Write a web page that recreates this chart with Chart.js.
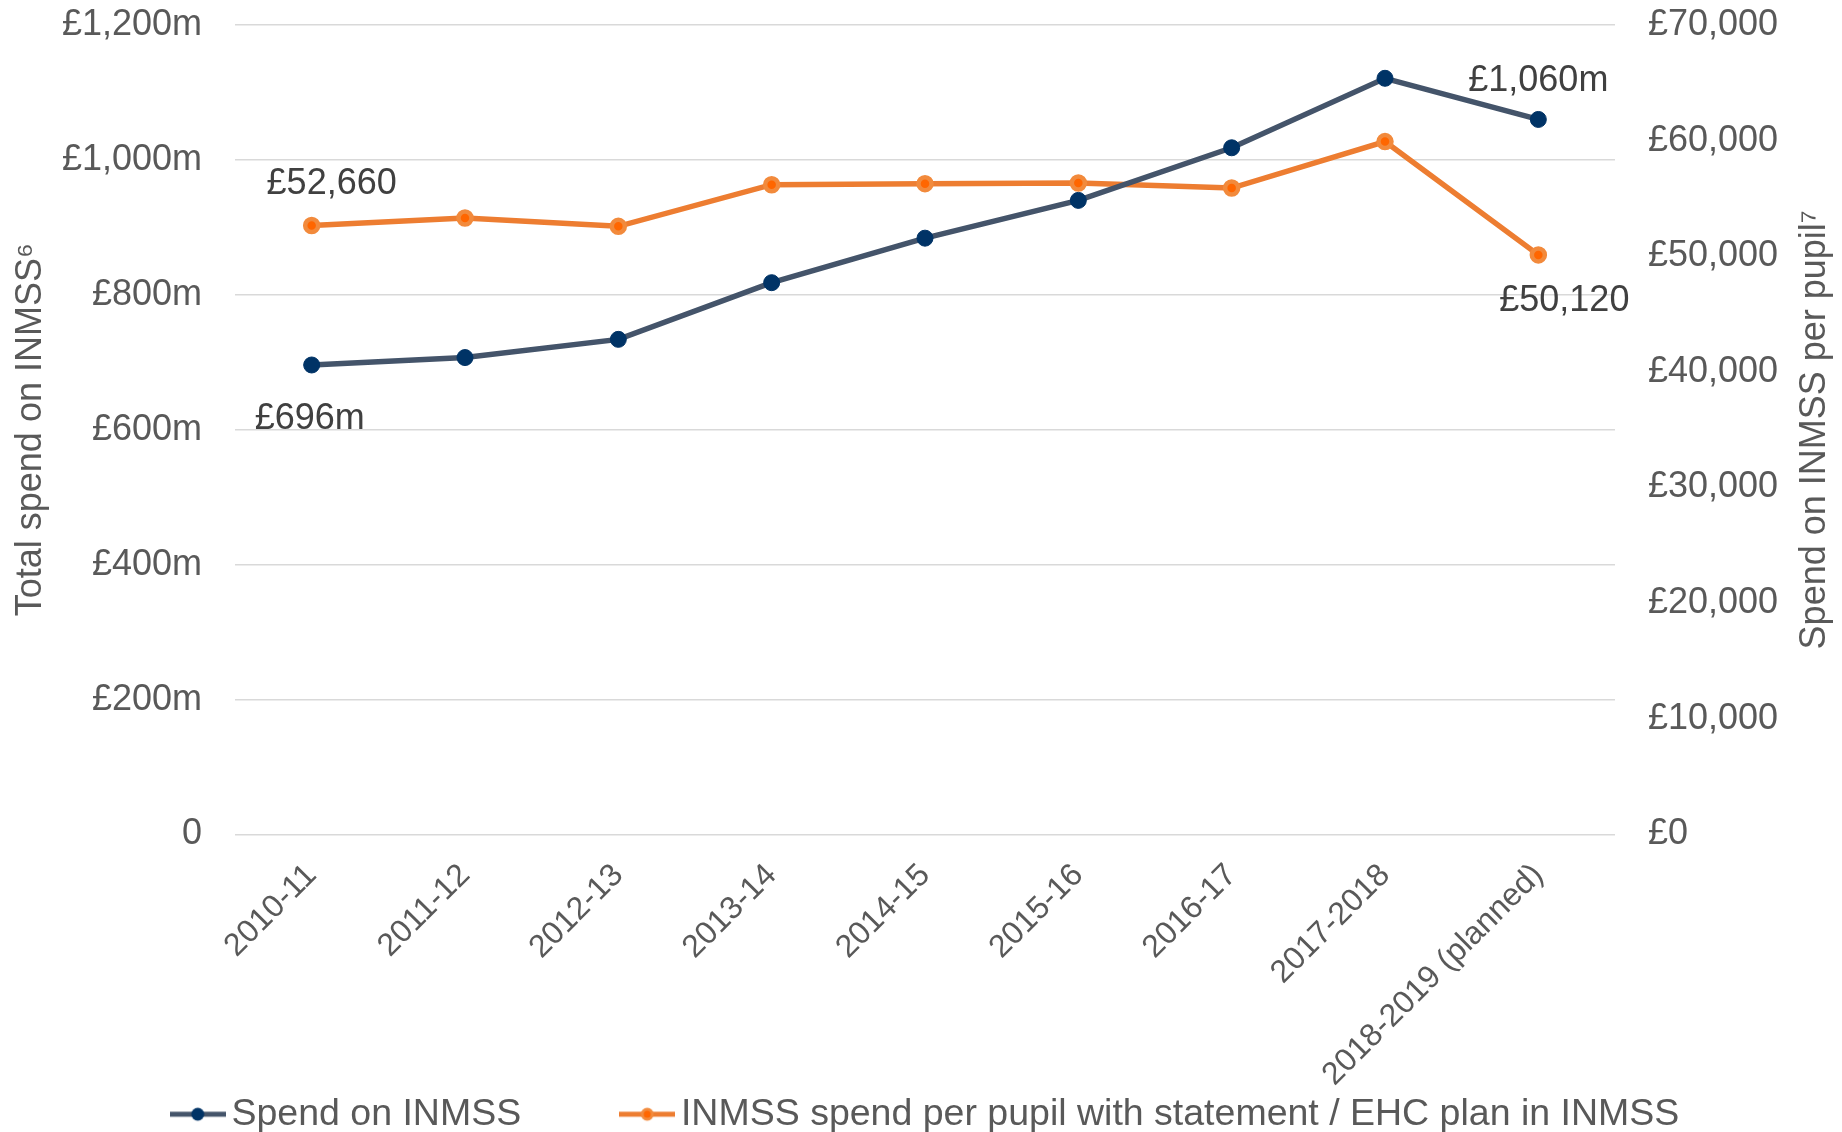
<!DOCTYPE html>
<html lang="en">
<head>
<meta charset="utf-8">
<title>Spend on INMSS</title>
<script src="https://cdn.jsdelivr.net/npm/chart.js@4.4.0/dist/chart.umd.min.js"></script>
<style>
  html, body { margin: 0; padding: 0; background: #fff; }
  canvas { display: block; }
</style>
</head>
<body>
<canvas id="grafica" width="1842" height="1132"></canvas>
<script>
// data
const years = ['2010-11', '2011-12', '2012-13', '2013-14', '2014-15', '2015-16', '2016-17', '2017-2018', '2018-2019 (planned)'];
const spendTotal = [696, 707, 734, 818, 884, 940, 1018, 1121, 1060];            // £m
const spendPerPupil = [52660, 53310, 52590, 56190, 56280, 56340, 55900, 59920, 50120]; // £
const leftTicks = [0, 200, 400, 600, 800, 1000, 1200];
const rightTicks = [0, 10000, 20000, 30000, 40000, 50000, 60000, 70000];
const seriesNames = ['Spend on INMSS', 'INMSS spend per pupil with statement / EHC plan in INMSS'];
const axisTitles = ['Total spend on INMSS\u2076', 'Spend on INMSS per pupil\u2077'];

document.addEventListener('DOMContentLoaded', () => {

    const FONT = '"Liberation Sans", Arial, sans-serif';
    const GREY = '#595959';
    const ctx = document.getElementById('grafica').getContext('2d');

    const money = v => '£' + v.toLocaleString('en-GB');
    const millions = v => v === 0 ? '0' : money(v) + 'm';

    // little line + dot pictures for the legend
    function legendSymbol(line, fill, ring, r, ringWidth) {
        const c = document.createElement('canvas');
        c.width = 56; c.height = 18;
        const g = c.getContext('2d');
        g.strokeStyle = line;
        g.lineWidth = 5;
        g.beginPath(); g.moveTo(0, 9); g.lineTo(56, 9); g.stroke();
        g.beginPath(); g.arc(28, 9, r, 0, Math.PI * 2);
        g.fillStyle = fill; g.fill();
        if (ringWidth) { g.lineWidth = ringWidth; g.strokeStyle = ring; g.stroke(); }
        return c;
    }
    const symbols = [
        legendSymbol('#44546A', '#003366', '#003366', 6.5, 0),
        legendSymbol('#ED7D31', '#FF6600', '#F28A3C', 5, 3)
    ];

    // which points carry a value label, and where the text sits
    const labelSpots = [
        { ds: 0, i: 0, dx: -2, dy: 54, fmt: millions },
        { ds: 0, i: 8, dx: 0, dy: -38, fmt: millions },
        { ds: 1, i: 0, dx: 20, dy: -41, fmt: money },
        { ds: 1, i: 8, dx: 26, dy: 46, fmt: money }
    ];

    const pointLabels = {
        id: 'pointLabels',
        afterDatasetsDraw(chart) {
            const c = chart.ctx;
            c.save();
            c.font = '36px ' + FONT;
            c.fillStyle = '#404040';
            c.textAlign = 'center';
            c.textBaseline = 'middle';
            labelSpots.forEach(s => {
                const el = chart.getDatasetMeta(s.ds).data[s.i];
                const v = chart.data.datasets[s.ds].data[s.i];
                c.fillText(s.fmt(v), el.x + s.dx, el.y + s.dy);
            });
            c.restore();
        }
    };

    // right axis title reads bottom-to-top like the left one
    const rightTitle = {
        id: 'rightTitle',
        afterDraw(chart) {
            const c = chart.ctx;
            const a = chart.chartArea;
            c.save();
            c.translate(chart.width - 27, (a.top + a.bottom) / 2);
            c.rotate(-Math.PI / 2);
            c.font = '36px ' + FONT;
            c.fillStyle = GREY;
            c.textAlign = 'center';
            c.textBaseline = 'middle';
            c.fillText(axisTitles[1], 0, 0);
            c.restore();
        }
    };

    new Chart(ctx, {
        type: 'line',
        data: {
            labels: years,
            datasets: [{
                label: seriesNames[0],
                data: spendTotal,
                yAxisID: 'y',
                borderColor: '#44546A',
                borderWidth: 5.5,
                pointRadius: 8,
                pointBorderWidth: 1,
                pointBackgroundColor: '#003366',
                pointBorderColor: '#003366',
                tension: 0
            }, {
                label: seriesNames[1],
                data: spendPerPupil,
                yAxisID: 'y1',
                borderColor: '#ED7D31',
                borderWidth: 5.5,
                pointRadius: 6.5,
                pointBorderWidth: 4.5,
                pointBackgroundColor: '#FF6600',
                pointBorderColor: '#F28A3C',
                tension: 0
            }]
        },
        options: {
            responsive: false,
            animation: false,
            layout: { padding: { top: 25, left: 20, right: 0, bottom: -11 } },
            plugins: {
                tooltip: { enabled: false },
                legend: {
                    position: 'bottom',
                    labels: {
                        usePointStyle: true,
                        pointStyleWidth: 30,
                        padding: 111,
                        color: GREY,
                        font: { size: 37.5, family: FONT },
                        generateLabels: chart => {
                            const items = Chart.defaults.plugins.legend.labels.generateLabels(chart);
                            items.forEach(it => { it.pointStyle = symbols[it.datasetIndex]; });
                            return items;
                        }
                    }
                }
            },
            scales: {
                x: {
                    offset: true,
                    grid: { display: false },
                    border: { display: false },
                    ticks: {
                        autoSkip: false,
                        minRotation: 45,
                        maxRotation: 45,
                        padding: 14,
                        color: GREY,
                        font: { size: 32, family: FONT }
                    },
                    afterFit: s => {
                        s.height = 150;
                        // long rotated labels run down past the axis box, like the original
                        s._computeLabelArea = () => null;
                    }
                },
                y: {
                    position: 'left',
                    min: 0,
                    max: 1200,
                    afterBuildTicks: s => { s.ticks = leftTicks.map(v => ({ value: v })); },
                    // gap between labels and plot made with invisible tick marks
                    grid: { color: '#D9D9D9', lineWidth: 1.5, drawTicks: true, tickLength: 33, tickColor: 'rgba(0,0,0,0)' },
                    border: { display: false },
                    ticks: {
                        padding: 0,
                        color: GREY,
                        font: { size: 36, family: FONT },
                        callback: v => millions(v)
                    },
                    title: {
                        display: true,
                        text: axisTitles[0],
                        color: GREY,
                        font: { size: 36, family: FONT },
                        padding: { top: -11, bottom: 0 }
                    },
                    afterFit: s => { s.width = 215; }
                },
                y1: {
                    position: 'right',
                    min: 0,
                    max: 70000,
                    afterBuildTicks: s => { s.ticks = rightTicks.map(v => ({ value: v })); },
                    grid: { color: 'rgba(0,0,0,0)', drawTicks: true, tickLength: 33, tickColor: 'rgba(0,0,0,0)' },
                    border: { display: false },
                    ticks: {
                        padding: 0,
                        color: GREY,
                        font: { size: 36, family: FONT },
                        callback: v => money(v)
                    },
                    afterFit: s => { s.width = 227; }
                }
            }
        },
        plugins: [pointLabels, rightTitle]
    });

});
</script>
</body>
</html>
